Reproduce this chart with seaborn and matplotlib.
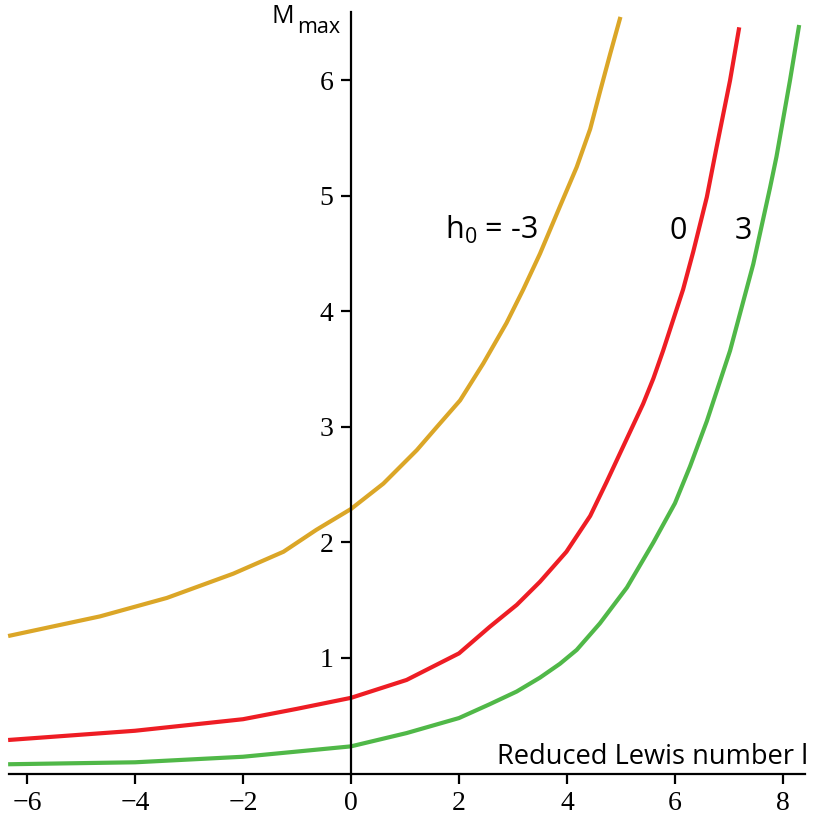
import matplotlib
matplotlib.use("Agg")
import matplotlib.pyplot as plt
import seaborn as sns
import pandas as pd

# Maximum M versus reduced Lewis number for three values of h0
gold_x = [-6.35, -4.65, -3.41, -2.18, -1.25, -0.64, 0.0, 0.60, 1.22, 1.59, 2.02, 2.45, 2.88,
          3.19, 3.50, 3.87, 4.18, 4.43, 4.61, 4.80, 4.99]
gold_y = [1.19, 1.36, 1.52, 1.73, 1.92, 2.11, 2.29, 2.51, 2.80, 3.00, 3.23, 3.55, 3.90,
          4.19, 4.50, 4.91, 5.25, 5.58, 5.90, 6.23, 6.55]

red_x = [-6.35, -4.0, -2.0, -1.0, 0.0, 1.03, 2.0, 2.57, 3.07, 3.5, 3.99, 4.43, 4.73, 5.04,
         5.41, 5.60, 5.78, 6.15, 6.34, 6.59, 6.77, 7.02, 7.19]
red_y = [0.29, 0.37, 0.47, 0.56, 0.655, 0.81, 1.04, 1.27, 1.46, 1.66, 1.92, 2.23, 2.52, 2.83,
         3.20, 3.42, 3.66, 4.19, 4.52, 4.99, 5.42, 6.00, 6.46]

green_x = [-6.35, -4.0, -2.0, 0.0, 1.03, 2.0, 2.57, 3.07, 3.5, 3.87, 4.18, 4.61, 5.11, 5.60,
           6.00, 6.28, 6.59, 7.02, 7.45, 7.76, 7.88, 8.13, 8.30]
green_y = [0.08, 0.097, 0.145, 0.235, 0.35, 0.48, 0.60, 0.71, 0.83, 0.95, 1.07, 1.30, 1.61, 2.00,
           2.34, 2.66, 3.05, 3.66, 4.41, 5.07, 5.34, 6.00, 6.48]

h0_values = ["-3", "0", "3"]
x_ticks = [-6, -4, -2, 0, 2, 4, 6, 8]
y_ticks = [1, 2, 3, 4, 5, 6]

sns.set_style("ticks")
plt.rcParams["font.family"] = ["Open Sans", "DejaVu Sans"]
plt.rcParams["mathtext.fontset"] = "custom"
plt.rcParams["mathtext.rm"] = "Open Sans"
plt.rcParams["text.color"] = "black"
plt.rcParams["xtick.color"] = "black"
plt.rcParams["ytick.color"] = "black"
plt.rcParams["axes.edgecolor"] = "black"

frames = []
for h, xs, ys in zip(h0_values, [gold_x, red_x, green_x], [gold_y, red_y, green_y]):
    frames.append(pd.DataFrame({"l": xs, "M": ys, "h0": h}))
df = pd.concat(frames, ignore_index=True)

palette = {"-3": "#DBA627", "0": "#EE1D24", "3": "#50B848"}

fig = plt.figure(figsize=(8.13, 8.17), dpi=100)
ax = fig.add_axes([9.2 / 813, 43.5 / 817, 795.9 / 813, 761.2 / 817])

sns.lineplot(data=df, x="l", y="M", hue="h0", palette=palette, sort=False,
             estimator=None, units="h0", linewidth=3.0, legend=False, ax=ax)
for line in ax.lines:
    line.set_clip_on(False)
    line.set_solid_capstyle("butt")
    line.set_solid_joinstyle("round")

ax.set_xlim(-6.33, 8.41)
ax.set_ylim(0, 6.59)

for side in ["top", "right"]:
    ax.spines[side].set_visible(False)
ax.spines["left"].set_position(("data", 0))
ax.spines["bottom"].set_position(("data", 0))
for side in ["left", "bottom"]:
    ax.spines[side].set_linewidth(1.6)
    ax.spines[side].set_color("black")

ax.set_xticks(x_ticks)
ax.set_yticks(y_ticks)
ax.set_xticklabels(["\u2212" + str(-v) if v < 0 else str(v) for v in x_ticks])
ax.set_yticklabels([str(v) for v in y_ticks])
ax.tick_params(axis="both", direction="out", length=7.5, width=1.6, color="black",
               labelcolor="black", labelsize=20, pad=5, bottom=True, left=True)
for lab in ax.get_xticklabels() + ax.get_yticklabels():
    lab.set_family(["Liberation Serif", "DejaVu Serif"])
ax.set_xlabel("")
ax.set_ylabel("")

# axis titles
ax.text(8.46, 0.082, "Reduced Lewis number l", ha="right", va="baseline",
        fontsize=19.6, clip_on=False)
ax.text(-1.48, 6.50, "M", ha="left", va="baseline", fontsize=18, clip_on=False)
ax.text(-1.0, 6.41, "max", ha="left", va="baseline", fontsize=15.5, clip_on=False)

# curve labels
ax.text(3.46, 4.63, r"h$_\mathrm{0}$ = -3", ha="right", va="baseline", fontsize=22)
ax.text(6.06, 4.63, "0", ha="center", va="baseline", fontsize=22)
ax.text(7.27, 4.63, "3", ha="center", va="baseline", fontsize=22)

fig.savefig("out.png", dpi=100, facecolor="white")
